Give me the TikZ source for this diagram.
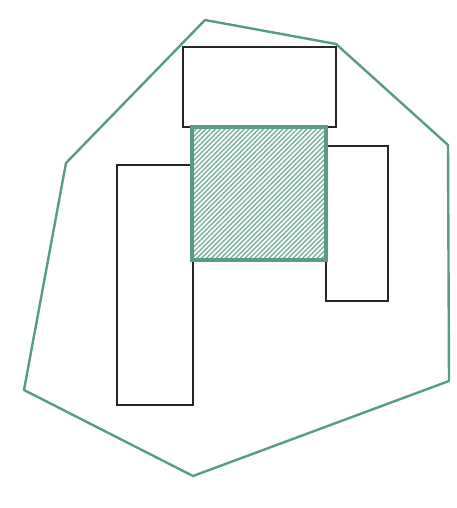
\documentclass[tikz,border=0pt]{standalone}
\usepackage{tikz}
\usetikzlibrary{patterns.meta}
\definecolor{hullgreen}{RGB}{88,156,130}
\tikzset{
  hullline/.style={draw=hullgreen, line width=2.4pt, line join=round},
  boxline/.style={draw=black!85, line width=2pt},
  overlapbox/.style={draw=hullgreen, line width=4.4pt, fill=white,
    pattern={Lines[angle=45, distance=3.4pt, line width=1.4pt]}, pattern color=hullgreen!80}
}

\begin{document}
\begin{tikzpicture}[x=1pt, y=-1pt]
      \useasboundingbox (0,0) rectangle (456,508);
      % hull corners
      \coordinate (h1) at (205,20);
      \coordinate (h2) at (336,44);
      \coordinate (h3) at (448,145);
      \coordinate (h4) at (449,381);
      \coordinate (h5) at (193,476);
      \coordinate (h6) at (24,390);
      \coordinate (h7) at (66,163);
      \draw[hullline] (h1) -- (h2) -- (h3) -- (h4) -- (h5) -- (h6) -- (h7) -- cycle;
      % boxes
      \draw[boxline] (183,47) rectangle (336,127);
      \draw[boxline] (117,165) rectangle (193,405);
      \draw[boxline] (326,146) rectangle (388,301);
      % overlap
      \fill[white] (192,127) rectangle (326,260);
      \draw[overlapbox] (192,127) rectangle (326,260);
    \end{tikzpicture}
\end{document}
